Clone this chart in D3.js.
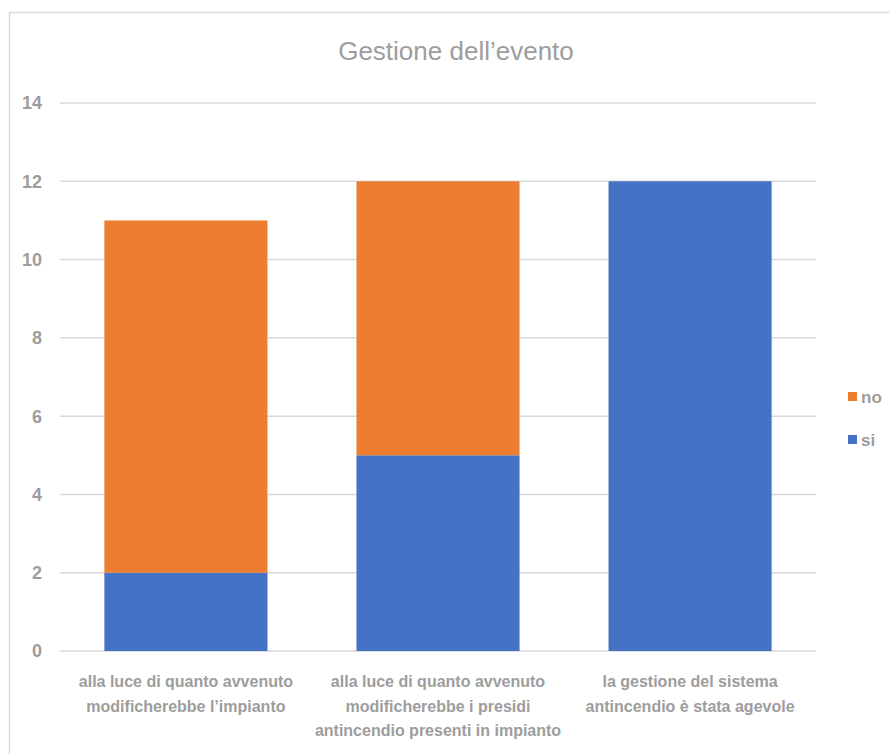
<!DOCTYPE html>
<html>
<head>
<meta charset="utf-8">
<script src="https://cdn.jsdelivr.net/npm/d3@7"></script>
<style>
  html, body { margin: 0; padding: 0; background: #fff; }
  svg { display: block; }
  text { font-family: "Liberation Sans", Arial, sans-serif; fill: #9d9d9d; }
</style>
</head>
<body>
<svg id="chart" width="889" height="754"></svg>
<script>
// Categories (each label split into lines)
const categories = [
  ["alla luce di quanto avvenuto", "modificherebbe l\u2019impianto"],
  ["alla luce di quanto avvenuto", "modificherebbe i presidi", "antincendio presenti in impianto"],
  ["la gestione del sistema", "antincendio \u00e8 stata agevole"]
];
const seriesNames = ["si", "no"];
const siValues = [2, 5, 12];
const noValues = [9, 7, 0];
const yTicks = [0, 2, 4, 6, 8, 10, 12, 14];
const colors = { si: "#4472c4", no: "#ed7d31" };

const svg = d3.select("#chart");

// Outer frame of the chart area
svg.append("rect")
  .attr("x", 9.5).attr("y", 12.5)
  .attr("width", 920).attr("height", 800)
  .attr("fill", "none").attr("stroke", "#d9d9d9").attr("stroke-width", 1.5);

const plot = { left: 60, right: 816, top: 103, bottom: 651 };

const x = d3.scaleBand()
  .domain(d3.range(categories.length))
  .range([plot.left, plot.right])
  .paddingInner(0.353)
  .paddingOuter(0.176);

const y = d3.scaleLinear().domain([0, 14]).range([plot.bottom, plot.top]);

// Gridlines
svg.append("g")
  .selectAll("line")
  .data(yTicks)
  .join("line")
  .attr("x1", plot.left).attr("x2", plot.right)
  .attr("y1", d => y(d)).attr("y2", d => y(d))
  .attr("stroke", "#d9d9d9").attr("stroke-width", 1.5);

// Y tick labels
svg.append("g")
  .selectAll("text")
  .data(yTicks)
  .join("text")
  .attr("x", 42).attr("y", d => y(d))
  .attr("dy", "0.36em")
  .attr("text-anchor", "end")
  .style("font-size", "18px")
  .style("font-weight", "bold")
  .text(d => d);

// Stacked bars
const rows = categories.map((c, i) => ({ i, si: siValues[i], no: noValues[i] }));
const stack = d3.stack().keys(seriesNames)(rows);

svg.append("g")
  .selectAll("g")
  .data(stack)
  .join("g")
  .attr("fill", s => colors[s.key])
  .selectAll("rect")
  .data(s => s)
  .join("rect")
  .attr("x", d => x(d.data.i))
  .attr("width", x.bandwidth())
  .attr("y", d => y(d[1]))
  .attr("height", d => y(d[0]) - y(d[1]));

// Category labels
const catG = svg.append("g");
categories.forEach((lines, i) => {
  const t = catG.append("text")
    .attr("text-anchor", "middle")
    .style("font-size", "16px")
    .style("font-weight", "bold");
  lines.forEach((ln, j) => {
    t.append("tspan")
      .attr("x", x(i) + x.bandwidth() / 2)
      .attr("y", 687 + j * 24.5)
      .text(ln);
  });
});

// Title
svg.append("text")
  .attr("x", 456).attr("y", 60)
  .attr("text-anchor", "middle")
  .style("font-size", "26px")
  .text("Gestione dell\u2019evento");

// Legend (reversed order: no above si)
const legend = svg.append("g");
["no", "si"].forEach((k, j) => {
  const ly = 397 + j * 43;
  legend.append("rect")
    .attr("x", 848).attr("y", ly - 5)
    .attr("width", 9).attr("height", 9)
    .attr("fill", colors[k]);
  legend.append("text")
    .attr("x", 861).attr("y", ly)
    .attr("dy", "0.36em")
    .style("font-size", "17px")
    .style("font-weight", "bold")
    .text(k);
});
</script>
</body>
</html>
